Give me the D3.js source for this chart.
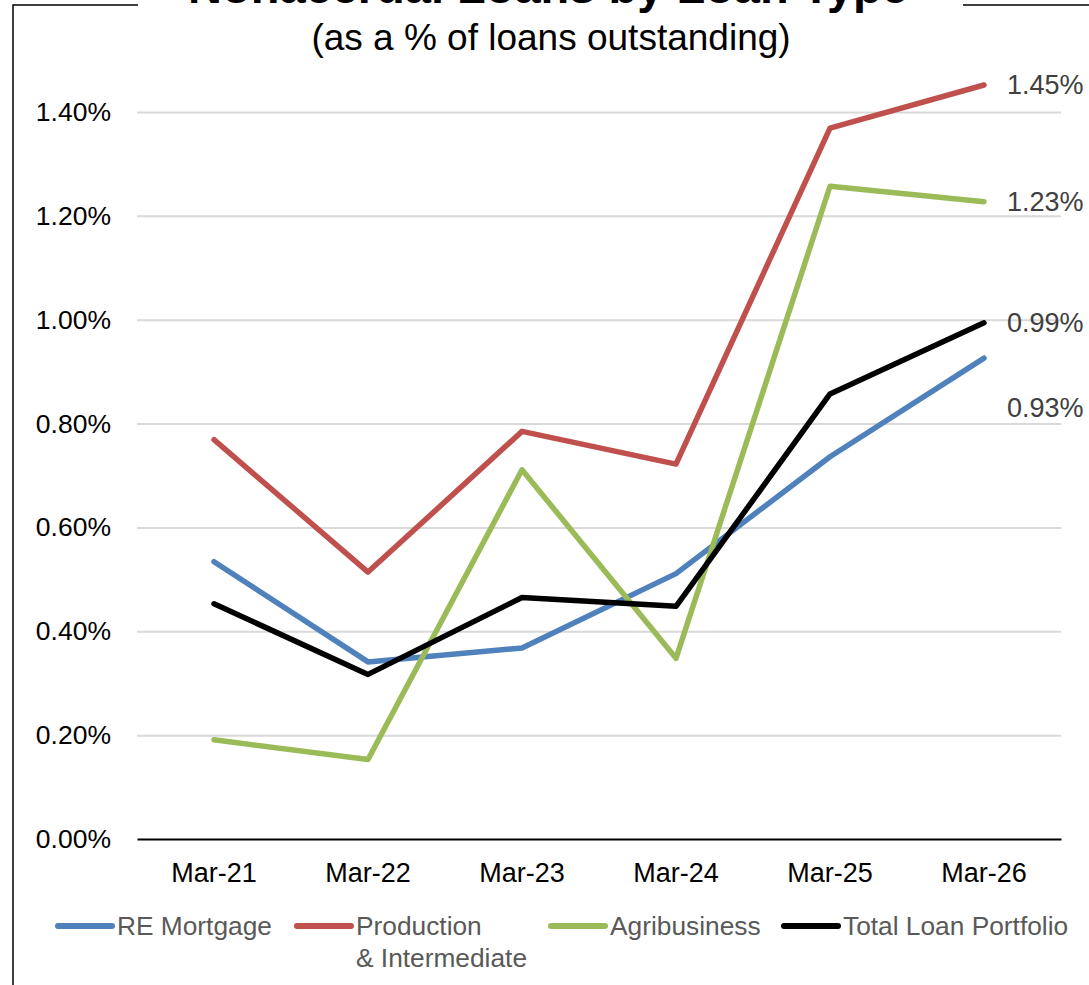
<!DOCTYPE html>
<html lang="en">
<head>
  <meta charset="UTF-8">
  <title>Nonaccrual Loans by Loan Type</title>
  <script src="https://d3js.org/d3.v7.min.js"></script>
  <style>
    html, body { margin: 0; padding: 0; background: #fff; }
    svg { display: block; font-family: Arial, "Liberation Sans", sans-serif; }
    .grid line { stroke: #d9d9d9; stroke-width: 2px; }
    .series { fill: none; stroke-width: 5.5px; stroke-linejoin: round; stroke-linecap: round; }
  </style>
</head>
<body>
  <svg width="1089" height="985"></svg>
  <script>
    // data (% of loans outstanding)
    const months = ["Mar-21", "Mar-22", "Mar-23", "Mar-24", "Mar-25", "Mar-26"];
    const reMortgage = [0.534, 0.341, 0.368, 0.511, 0.736, 0.926];
    const production = [0.769, 0.514, 0.785, 0.722, 1.369, 1.452];
    const agribusiness = [0.191, 0.153, 0.711, 0.348, 1.257, 1.227];
    const totalPortfolio = [0.453, 0.317, 0.465, 0.448, 0.857, 0.994];
    const yTicks = [0, 0.2, 0.4, 0.6, 0.8, 1.0, 1.2, 1.4];
    const seriesNames = ["RE Mortgage", "Production\n& Intermediate", "Agribusiness", "Total Loan Portfolio"];

    const series = [
      { name: seriesNames[0], values: reMortgage, color: "#4f81bd", labelDy: 49, legendX: 58 },
      { name: seriesNames[1], values: production, color: "#c0504d", labelDy: 0, legendX: 297 },
      { name: seriesNames[2], values: agribusiness, color: "#9bbb59", labelDy: 0, legendX: 551 },
      { name: seriesNames[3], values: totalPortfolio, color: "#000000", labelDy: 0, legendX: 784 }
    ];

    const svg = d3.select("svg");
    const plotLeft = 137, plotRight = 1061, plotTop = 112, plotBottom = 839;

    const x = d3.scaleBand().domain(months).range([plotLeft, plotRight]);
    const y = d3.scaleLinear().domain([0, 1.4]).range([plotBottom, plotTop]);
    const cx = m => x(m) + x.bandwidth() / 2;

    // frame around the chart, broken by the title
    svg.append("path")
      .attr("d", "M138,5H13V985M963,5H1089")
      .attr("fill", "none")
      .attr("stroke", "#000")
      .attr("stroke-width", 1.5);

    // titles
    svg.append("text")
      .attr("x", 548).attr("y", 3)
      .attr("text-anchor", "middle")
      .attr("font-size", 47).attr("font-weight", "bold")
      .text("Nonaccrual Loans by Loan Type");

    svg.append("text")
      .attr("x", 551).attr("y", 50)
      .attr("text-anchor", "middle")
      .attr("font-size", 37)
      .text("(as a % of loans outstanding)");

    // gridlines
    svg.append("g")
      .attr("class", "grid")
      .attr("transform", `translate(${plotLeft},0)`)
      .call(d3.axisLeft(y).tickValues(yTicks.slice(1)).tickSize(-(plotRight - plotLeft)).tickFormat(""))
      .call(g => g.select(".domain").remove());

    // y axis labels
    svg.append("g")
      .attr("transform", `translate(${plotLeft},0)`)
      .call(d3.axisLeft(y).tickValues(yTicks).tickSize(0).tickPadding(26)
        .tickFormat(d => d.toFixed(2) + "%"))
      .call(g => g.select(".domain").remove())
      .call(g => g.selectAll("text").attr("font-size", 26.5).attr("fill", "#000"))
      .attr("font-family", null);

    // x axis
    svg.append("g")
      .attr("transform", `translate(0,${plotBottom})`)
      .call(d3.axisBottom(x).tickSize(0).tickPadding(24))
      .call(g => g.select(".domain").attr("stroke", "#000").attr("stroke-width", 2))
      .call(g => g.selectAll("text").attr("font-size", 27).attr("fill", "#000"))
      .attr("font-family", null);

    // lines
    const line = d3.line()
      .x((d, i) => cx(months[i]))
      .y(d => y(d));

    svg.selectAll("path.series")
      .data(series)
      .join("path")
      .attr("class", "series")
      .attr("stroke", d => d.color)
      .attr("d", d => line(d.values));

    // end labels
    const fmt = d3.format(".2f");
    svg.selectAll("text.endlabel")
      .data(series)
      .join("text")
      .attr("class", "endlabel")
      .attr("x", cx(months[months.length - 1]) + 23)
      .attr("y", d => y(d.values[d.values.length - 1]) + d.labelDy)
      .attr("dy", "0.35em")
      .attr("font-size", 27)
      .attr("fill", "#404040")
      .text(d => fmt(d.values[d.values.length - 1]) + "%");

    // legend
    const legendY = 926;
    const legend = svg.selectAll("g.legend")
      .data(series)
      .join("g")
      .attr("class", "legend")
      .attr("transform", d => `translate(${d.legendX},${legendY})`);

    legend.append("line")
      .attr("x1", 0).attr("x2", 54)
      .attr("stroke", d => d.color)
      .attr("stroke-width", 6)
      .attr("stroke-linecap", "round");

    legend.append("text")
      .attr("x", 59)
      .attr("y", 9)
      .attr("font-size", 26.3)
      .attr("fill", "#595959")
      .selectAll("tspan")
      .data(d => d.name.split("\n"))
      .join("tspan")
      .attr("x", 59)
      .attr("dy", (d, i) => i === 0 ? 0 : 32)
      .text(d => d);
  </script>
</body>
</html>
